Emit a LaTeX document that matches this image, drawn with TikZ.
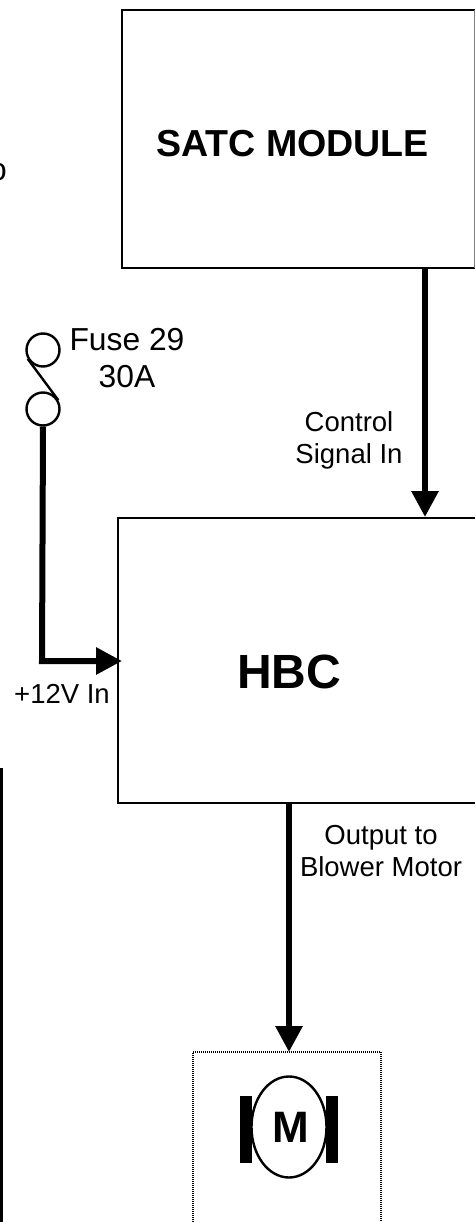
\documentclass[tikz,border=0pt]{standalone}
\usepackage{fontspec}
\setmainfont{Liberation Sans}
\usetikzlibrary{arrows.meta,shapes.geometric}
\tikzset{
 blockbox/.style={draw=black,line width=2.6pt,fill=none},
 wire/.style={line width=6pt,-{Triangle[length=26pt,width=26pt]}},
 lbl/.style={inner sep=0pt,align=center},
 conn/.style={line width=2.4pt},
}
\begin{document}
\begin{tikzpicture}[x=1pt,y=-1pt]
\useasboundingbox (0,0) rectangle (475,1222);
\fill[white] (0,0) rectangle (475,1222);
\draw[blockbox] (475,10) -- (122,10) -- (122,268) -- (475,268);
\draw[line width=0.8pt,gray] (474.5,10) -- (474.5,268);
\node[inner sep=0pt,font=\bfseries\fontsize{37.6}{40}\selectfont] (satc) at (292.5,144) {SATC MODULE};
\coordinate (satcB) at (425,268);
\draw[blockbox] (475,518) -- (118,518) -- (118,803) -- (475,803);
\node[inner sep=0pt,font=\bfseries\fontsize{48}{50}\selectfont] (hbc) at (289,672) {HBC};
\coordinate (hbcT) at (425,517);
\coordinate (hbcL) at (122,661);
\coordinate (hbcB) at (289,803);
\draw[wire] (satcB) -- (hbcT);
\node[lbl,font=\fontsize{27.5}{32}\selectfont] (ctl) at (349,440) {Control\\Signal In};
\node[lbl,font=\fontsize{27.5}{32}\selectfont] (plus) at (62,694) {+12V In};
\node[lbl,font=\fontsize{27.5}{32}\selectfont] (out) at (381,851) {Output to\\Blower Motor};
\node[lbl,font=\fontsize{31.8}{37}\selectfont] (fuse) at (127,358) {Fuse 29\\30A};
\node[circle,draw,line width=2.4pt,minimum size=33pt,inner sep=0pt] (f1) at (43,350) {};
\node[circle,draw,line width=2.4pt,minimum size=33pt,inner sep=0pt] (f2) at (43,409) {};
\draw[conn] (f1.210) -- (f2.30);
\coordinate (corner) at (42,661);
\draw[wire] (f2.south) -- (corner) -- (hbcL);
\draw[line width=2pt,dash pattern=on 1pt off 1pt] (193,1222) -- (193,1052) -- (381,1052) -- (381,1222);
\coordinate (motT) at (289,1052);
\draw[wire] (hbcB) -- (motT);
\node[ellipse,draw,line width=2.4pt,minimum width=75pt,minimum height=101pt,inner sep=0pt] (m) at (289,1127) {};
\node[inner sep=0pt,font=\bfseries\fontsize{44}{46}\selectfont] (mt) at (291,1127) {M};
\fill[black] (240,1096) rectangle (252,1163);
\fill[black] (326,1096) rectangle (338,1163);
\node[lbl,font=\fontsize{31.8}{37}\selectfont,anchor=east] (o) at (7,172) {o};
\draw[line width=3.5pt] (1.5,768) -- (1.5,1222);
\end{tikzpicture}
\end{document}
